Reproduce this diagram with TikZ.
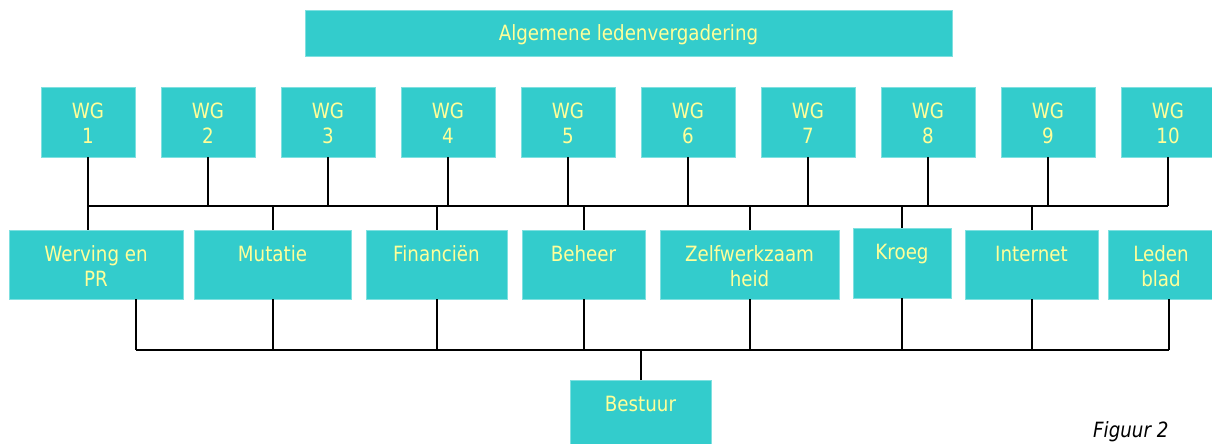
\documentclass[tikz,border=0pt]{standalone}
\usepackage{fontspec}
\setmainfont{DejaVu Sans}[FakeStretch=0.87]
\definecolor{boxc}{HTML}{33CCCC}
\definecolor{txtc}{HTML}{FFFF99}
\definecolor{edgec}{HTML}{7FE0E0}
\newcommand\twol[2]{\begin{tabular}[t]{@{}c@{}}#1\\#2\end{tabular}}
\newcommand\obox[6]{\node[box, minimum width=#4pt-#2pt, minimum height=#5pt-#3pt, anchor=north west, label={[txt]north:#6}] (#1) at (#2,#3) {};}
\tikzset{
  box/.style={rectangle, fill=boxc, draw=edgec, line width=0.6pt, inner sep=0pt, outer sep=0pt},
  txt/.style={anchor=base, yshift=-31pt, inner sep=0pt, text=txtc, font=\fontsize{21}{25.5}\selectfont},
  conn/.style={draw=black, line width=2pt}
}
\begin{document}
\begin{tikzpicture}[x=1pt,y=-1pt]
\useasboundingbox (0,0) rectangle (1212,444);
\clip (0,0) rectangle (1212,444);
% top
\obox{alv}{305}{10}{952}{56}{Algemene ledenvergadering}
% working groups
\foreach \i in {1,...,10}{
  \pgfmathsetmacro\lx{41+120*(\i-1)}
  \pgfmathsetmacro\rx{\lx+94}
  \obox{wg\i}{\lx}{87}{\rx}{157}{\twol{WG}{\i}}
}
% middle row
\obox{werv}{9}{230}{183}{299}{\twol{Werving en}{PR}}
\obox{mut}{194}{230}{351}{299}{Mutatie}
\obox{fin}{366}{230}{507}{299}{Financiën}
\obox{beh}{522}{230}{645}{299}{Beheer}
\obox{zelf}{660}{230}{839}{299}{\twol{Zelfwerkzaam}{heid}}
\obox{kroeg}{853}{228}{951}{298}{Kroeg}
\obox{inet}{965}{230}{1098}{299}{Internet}
\obox{leden}{1108}{230}{1214}{299}{\twol{Leden}{blad}}
% bestuur
\obox{best}{570}{380}{711}{446}{Bestuur}
% buses
\coordinate (bus1) at (0,206);
\coordinate (bus2) at (0,350);
\foreach \i in {2,...,10}{
  \draw[conn] (wg\i.south) -- (wg\i.south |- bus1);
}
\draw[conn] (wg1.south) -- (werv.north -| wg1.south);
\draw[conn] (wg1.south |- bus1) -- (wg10.south |- bus1);
\foreach \n in {mut,fin,beh,zelf,kroeg,inet}{
  \draw[conn] (\n.north |- bus1) -- (\n.north);
}
\coordinate (wervb) at ([xshift=40pt]werv.south);
\coordinate (ledenb) at ([xshift=8pt]leden.south);
\draw[conn] (wervb) -- (wervb |- bus2);
\draw[conn] (ledenb) -- (ledenb |- bus2);
\foreach \n in {mut,fin,beh,zelf,kroeg,inet}{
  \draw[conn] (\n.south) -- (\n.south |- bus2);
}
\draw[conn] (wervb |- bus2) -- (ledenb |- bus2);
\draw[conn] (best.north) -- (best.north |- bus2);
% caption
\node[anchor=base west, inner sep=0pt, font=\fontsize{21}{25}\selectfont\itshape] (fig) at (1093,437) {Figuur 2};
\end{tikzpicture}
\end{document}
